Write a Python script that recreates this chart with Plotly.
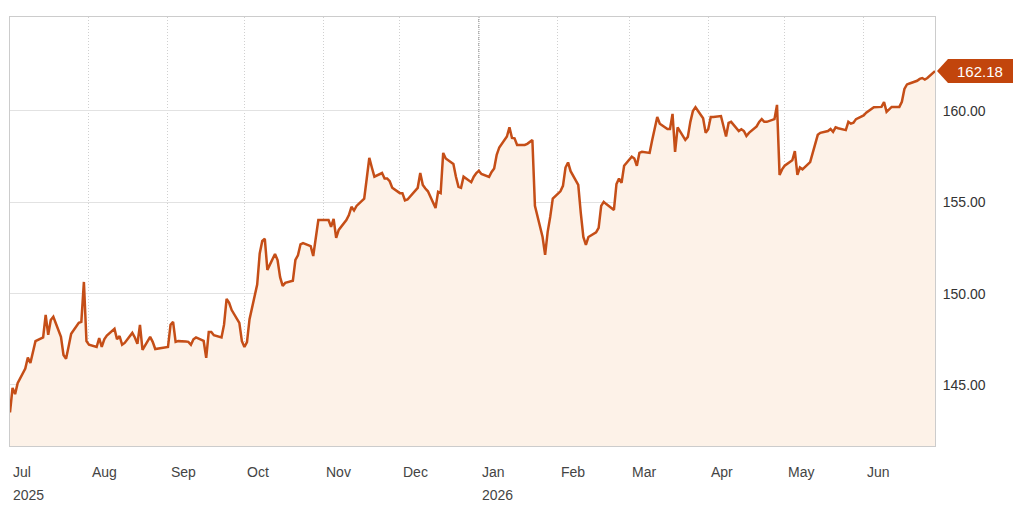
import pandas as pd
import plotly.graph_objects as go

# Daily closing values (business days), one list per month
jul_2025 = [143.5, 144.84, 144.5, 145.1, 145.9, 146.5, 146.2, 146.9, 147.4, 147.6, 148.83, 147.74,
            148.56, 148.73, 147.63, 146.64, 146.43, 147.1, 147.8, 148.4, 148.45, 150.64, 147.4]
aug_2025 = [147.2, 147.08, 147.57, 147.08, 147.5, 147.7, 148.07, 147.5, 147.68, 147.2, 147.3,
            147.85, 147.6, 147.25, 148.29, 146.92, 147.63, 147.36, 146.97, 147.0, 147.03]
sep_2025 = [147.08, 148.29, 148.45, 147.36, 147.4, 147.38, 147.36, 147.2, 147.5, 147.6, 147.41,
            146.48, 147.9, 147.9, 147.72, 147.6, 148.3, 149.71, 149.5, 149.1, 148.4, 147.4]
oct_2025 = [147.08, 147.35, 148.6, 150.5, 152.2, 152.88, 153.0, 151.3, 152.17, 151.84, 150.9,
            150.42, 150.59, 150.7, 151.84, 152.1, 152.7, 152.77, 152.6, 152.06, 153.2, 154.03, 154.03]
nov_2025 = [154.03, 153.65, 154.09, 153.05, 153.49, 154.03, 154.3, 154.75, 154.55, 154.8, 155.2,
            156.3, 157.43, 156.9, 156.4, 156.6, 156.3, 156.3, 156.15, 155.8]
dec_2025 = [155.5, 155.5, 155.1, 155.15, 155.3, 155.79, 156.6, 155.95, 155.75, 155.6, 154.69,
            155.57, 155.5, 157.7, 157.4, 157.1, 156.4, 155.84, 155.79, 156.4, 156.1, 156.4, 156.6]
jan_2026 = [156.72, 156.55, 156.39, 156.66, 156.85, 157.6, 158.0, 158.6, 159.1, 158.52, 158.5,
            158.14, 158.14, 158.2, 158.3, 158.41, 154.8, 153.1, 152.12, 153.38, 154.2, 155.2]
feb_2026 = [155.6, 155.9, 156.9, 157.18, 156.7, 155.95, 154.4, 153.1, 152.67, 153.1, 153.35,
            153.6, 154.8, 155.02, 154.9, 154.58, 156.0, 156.3, 156.06, 157.0]
mar_2026 = [157.5, 157.4, 157.0, 157.7, 157.76, 157.7, 158.4, 159.1, 159.67, 159.3, 159.01,
            159.01, 159.84, 157.76, 159.1, 158.41, 158.58, 159.4, 160.0, 160.2, 159.6, 158.8]
apr_2026 = [159.0, 159.67, 159.67, 159.72, 159.2, 158.6, 159.34, 159.4, 158.9, 159.0, 158.9,
            158.63, 158.8, 159.15, 159.4, 159.55, 159.4, 159.4, 159.55, 160.33, 156.5, 156.8]
may_2026 = [157.0, 157.3, 157.8, 156.5, 156.9, 156.8, 157.2, 157.7, 158.2, 158.69, 158.8,
            158.9, 159.01, 158.85, 159.1, 159.05, 158.95, 159.4, 159.3, 159.35, 159.55]
jun_2026 = [159.75, 159.9, 160.0, 160.13, 160.2, 160.22, 160.49, 159.95, 160.1, 160.22, 160.22,
            160.5, 161.2, 161.45, 161.5, 161.65, 161.75, 161.8, 161.72, 161.8, 162.18]

month_starts = ["2025-07-01", "2025-08-01", "2025-09-01", "2025-10-01", "2025-11-01", "2025-12-01",
                "2026-01-01", "2026-02-01", "2026-03-01", "2026-04-01", "2026-05-01", "2026-06-01"]
month_labels = ["Jul", "Aug", "Sep", "Oct", "Nov", "Dec", "Jan", "Feb", "Mar", "Apr", "May", "Jun"]
year_labels = {"2025-07-01": "2025", "2026-01-01": "2026"}
last_date = "2026-06-29"
y_ticks = [145, 150, 155, 160]

series = [jul_2025, aug_2025, sep_2025, oct_2025, nov_2025, dec_2025,
          jan_2026, feb_2026, mar_2026, apr_2026, may_2026, jun_2026]

LINE = "#c54e17"
FILL = "#fdf2e8"
BOX = "#c2450c"
FONT = "Liberation Sans, Arial, sans-serif"

dates, values = [], []
for start, vals in zip(month_starts, series):
    end = min(pd.Timestamp(start) + pd.offsets.MonthEnd(0), pd.Timestamp(last_date))
    d = pd.bdate_range(start, end)
    assert len(d) == len(vals), (start, len(d), len(vals))
    dates.extend(d)
    values.extend(vals)

fig = go.Figure()
fig.add_trace(go.Scatter(
    x=dates, y=values, mode="lines",
    line=dict(color=LINE, width=2.5),
    fill="tozeroy", fillcolor=FILL,
    hoverinfo="skip", showlegend=False,
))

shapes = []
# darker dotted year boundary
for start in year_labels:
    if start != month_starts[0]:
        shapes.append(dict(type="line", xref="x", yref="paper", x0=start, x1=start, y0=0, y1=1,
                           line=dict(color="#7a7a7a", width=1, dash="1px,1px"), layer="below"))
# last value tag
last_val = values[-1]
shapes.append(dict(type="path", xref="paper", yref="y", xsizemode="pixel", ysizemode="pixel",
                   xanchor=1, yanchor=last_val,
                   path="M 2,0 L 13,12 L 78,12 L 78,-12 L 13,-12 Z",
                   fillcolor=BOX, line=dict(width=0), layer="above"))

annotations = [dict(xref="paper", yref="y", x=1, y=last_val, xshift=45, text=f"{last_val:.2f}",
                    showarrow=False, font=dict(family=FONT, size=15, color="white"),
                    xanchor="center", yanchor="middle")]
for start, lab in zip(month_starts, month_labels):
    annotations.append(dict(xref="x", yref="paper", x=start, y=-0.038, text=lab, showarrow=False,
                            xanchor="left", yanchor="top", xshift=1,
                            font=dict(family=FONT, size=14, color="#444")))
    if start in year_labels:
        annotations.append(dict(xref="x", yref="paper", x=start, y=-0.092, text=year_labels[start],
                                showarrow=False, xanchor="left", yanchor="top", xshift=1,
                                font=dict(family=FONT, size=14, color="#444")))

fig.update_layout(
    width=1020, height=513,
    margin=dict(l=10, r=85, t=17, b=67),
    paper_bgcolor="white", plot_bgcolor="white",
    font=dict(family=FONT, size=14, color="#333"),
    shapes=shapes, annotations=annotations,
    xaxis=dict(
        type="date", range=[month_starts[0], last_date],
        tickvals=month_starts, showticklabels=False, ticks="",
        showgrid=True, gridcolor="#d0d0d0", griddash="1px,2px", gridwidth=1,
        showline=True, mirror=True, linecolor="#cccccc", linewidth=1, zeroline=False,
    ),
    yaxis=dict(
        side="right", range=[141.66, 165.14],
        tickvals=y_ticks, tickformat=".2f",
        showgrid=True, gridcolor="#e2e2e2", gridwidth=1,
        showline=True, mirror=True, linecolor="#cccccc", linewidth=1, zeroline=False,
        ticks="", ticklabelstandoff=4,
        tickfont=dict(family=FONT, size=14, color="#333"),
    ),
)

fig.write_html("out.html")
